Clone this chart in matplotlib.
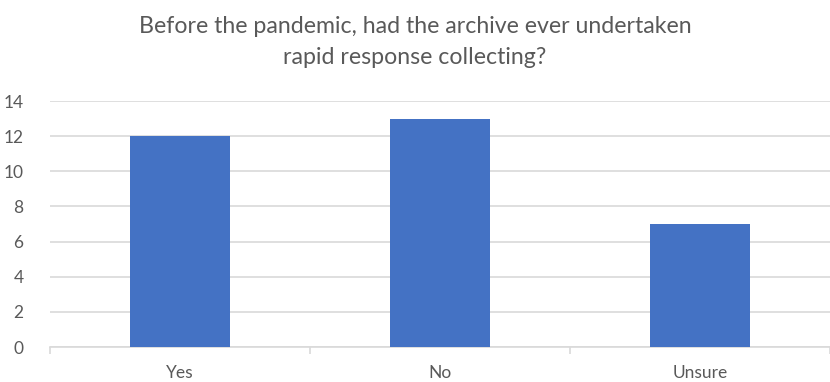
import numpy as np
import matplotlib
matplotlib.use('Agg')
import matplotlib.pyplot as plt

categories = ['Yes', 'No', 'Unsure']
counts = [12, 13, 7]
yticks = [0, 2, 4, 6, 8, 10, 12, 14]

plt.rcParams['font.family'] = ['Lato', 'DejaVu Sans']
text_col = '#595959'
grid_col = '#D9D9D9'

fig = plt.figure(figsize=(8.3, 3.82), dpi=100)
ax = fig.add_axes([0.0602, 0.0916, 0.9398, 0.644])

x = np.arange(len(categories))
ax.bar(x, counts, width=0.385, color='#4472C4', zorder=3)

ax.set_ylim(0, 14)
ax.set_xlim(-0.5, 2.47)
ax.set_yticks(yticks)
ax.yaxis.grid(True, color=grid_col, linewidth=1.2, zorder=0)
ax.tick_params(axis='y', length=0, labelsize=12.5, labelcolor=text_col, pad=19)

ax.set_xticks(x)
ax.set_xticklabels(categories)
ax.set_xticks([-0.5, 0.5, 1.5, 2.5], minor=True)
ax.tick_params(axis='x', which='major', length=0, labelsize=12.5,
               labelcolor=text_col, pad=13)
ax.tick_params(axis='x', which='minor', length=5, color=grid_col, width=1.2)

for side in ['top', 'right', 'left']:
    ax.spines[side].set_visible(False)
ax.spines['bottom'].set_color(grid_col)
ax.spines['bottom'].set_linewidth(1.2)

fig.text(0.5, 0.93, 'Before the pandemic, had the archive ever undertaken',
         ha='center', va='center', fontsize=16.7, color=text_col)
fig.text(0.5, 0.85, 'rapid response collecting?',
         ha='center', va='center', fontsize=16.7, color=text_col)

fig.savefig('out.png', dpi=100)
